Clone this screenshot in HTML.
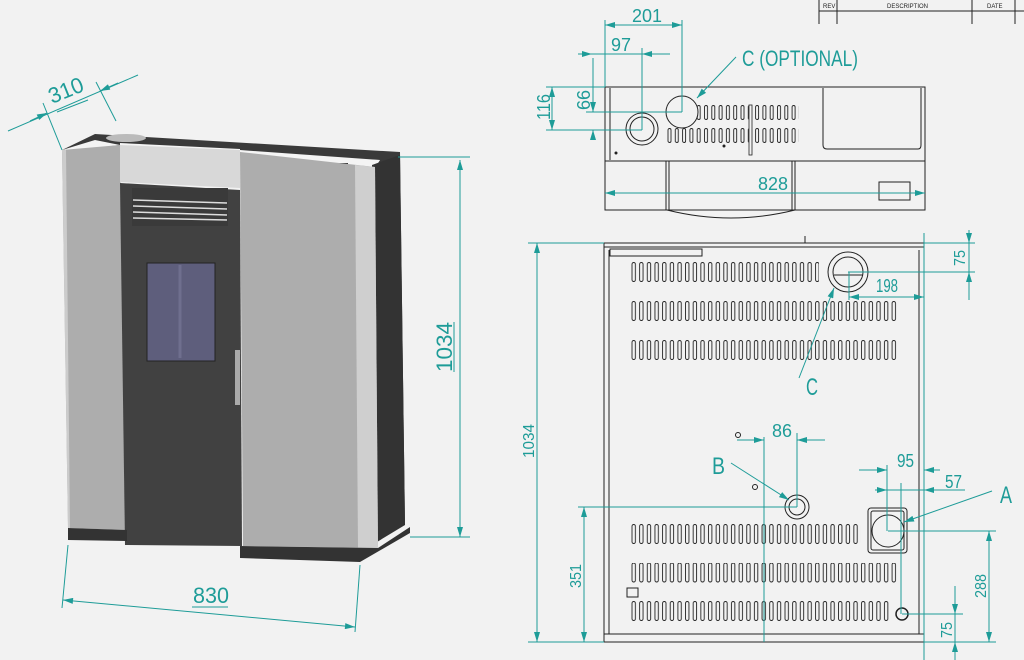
<!DOCTYPE html>
<html><head><meta charset="utf-8"><style>
html,body{margin:0;padding:0;background:#f2f2f2;}
svg{display:block}
.t{font-family:"Liberation Sans Narrow","Liberation Sans",sans-serif;fill:#1e9c98;}
.d{stroke:#1e9c98;stroke-width:1;fill:none}
.k{stroke:#222;stroke-width:1;fill:none}
</style></head><body>
<svg width="1024" height="660" viewBox="0 0 1024 660" xmlns="http://www.w3.org/2000/svg">
<defs>
<marker id="a" viewBox="0 0 10 6" refX="10" refY="3" markerWidth="14" markerHeight="6" markerUnits="userSpaceOnUse" orient="auto-start-reverse"><path d="M0,0 L10,3 L0,6z" fill="#1e9c98"/></marker>
<pattern id="s1" x="631" y="262" width="7.65" height="39" patternUnits="userSpaceOnUse"><rect x="1" y="0.5" width="3.4" height="19" rx="1.7" fill="none" stroke="#222" stroke-width="0.9"/></pattern>
<pattern id="s3" x="631" y="524" width="7.65" height="38.5" patternUnits="userSpaceOnUse"><rect x="1" y="0.5" width="3.4" height="19" rx="1.7" fill="none" stroke="#222" stroke-width="0.9"/></pattern>
<pattern id="s2" x="667" y="105" width="7.3" height="23" patternUnits="userSpaceOnUse"><rect x="1" y="0.5" width="3" height="14" rx="1.5" fill="none" stroke="#222" stroke-width="0.9"/></pattern>
</defs>

<!-- ===== 3D stove ===== -->
<polygon points="95,134 400,152 405,525 375,528 372,170 380,160 62,150" fill="#3a3a3a"/>
<polygon points="62,150 95,140 120,145 62,152" fill="#f4f4f4"/>
<polygon points="120,143 240,149 240,152 120,147" fill="#f4f4f4"/>
<polygon points="240,150 380,160 375,168 240,153" fill="#f4f4f4"/>
<polygon points="372,165 400,155 405,525 372,545" fill="#333"/>
<ellipse cx="126" cy="138" rx="20" ry="4" fill="#bbb"/>
<rect x="320" y="163" width="28" height="5" fill="#333"/>
<!-- left panel -->
<polygon points="62,150 120,145 125,530 68,528" fill="#adadad"/>
<polygon points="62,150 66,150 70,528 68,528" fill="#ccc"/>
<!-- center band -->
<polygon points="120,145 240,150 240,188 120,182" fill="#d8d8d8"/>
<!-- door -->
<polygon points="120,183 240,190 242,546 125,545" fill="#414141"/>
<rect x="132" y="188" width="96" height="38" fill="#3a3a3a"/>
<g stroke="#ddd" stroke-width="1.5">
<line x1="133" y1="200" x2="227" y2="203"/><line x1="133" y1="206" x2="227" y2="209"/><line x1="133" y1="212" x2="227" y2="215"/><line x1="133" y1="218" x2="227" y2="220"/></g>
<rect x="147" y="263" width="68" height="98" fill="#5e5e7c" stroke="#222"/>
<line x1="180" y1="265" x2="180" y2="358" stroke="#6f6f8e" stroke-width="3"/>
<rect x="235" y="350" width="5" height="55" fill="#aaa"/>
<!-- right panel -->
<polygon points="240,152 375,167 378,548 243,546" fill="#adadad"/>
<polygon points="355,165 375,167 378,548 358,548" fill="#cfcfcf"/>
<!-- base -->
<polygon points="68,528 127,530 127,541 68,540" fill="#333"/>
<polygon points="240,546 378,548 410,527 410,533 360,562 240,558" fill="#333"/>

<!-- 3D dims -->
<line class="d" x1="8" y1="131" x2="138" y2="75"/>
<line class="d" x1="30" y1="121" x2="47" y2="113" marker-end="url(#a)"/>
<line class="d" x1="118" y1="83" x2="100" y2="91" marker-end="url(#a)"/>
<line class="d" x1="43" y1="103" x2="62" y2="150"/>
<line class="d" x1="96" y1="82" x2="116" y2="121"/>
<text class="t" x="52" y="104" font-size="22" textLength="36" lengthAdjust="spacingAndGlyphs" transform="rotate(-22 52 104)">310</text>
<line class="d" x1="57" y1="112" x2="88" y2="100"/>
<line class="d" x1="398" y1="157" x2="470" y2="157"/>
<line class="d" x1="410" y1="537" x2="470" y2="537"/>
<line class="d" x1="460" y1="160" x2="460" y2="537" marker-start="url(#a)" marker-end="url(#a)"/>
<text class="t" x="452" y="372" font-size="22" textLength="50" lengthAdjust="spacingAndGlyphs" transform="rotate(-90 452 372)">1034</text>
<line class="d" x1="454" y1="322" x2="454" y2="372"/>
<line class="d" x1="68" y1="545" x2="62" y2="608"/>
<line class="d" x1="360" y1="565" x2="355" y2="632"/>
<line class="d" x1="63" y1="600" x2="355" y2="627" marker-start="url(#a)" marker-end="url(#a)"/>
<text class="t" x="193" y="603" font-size="22" textLength="36" lengthAdjust="spacingAndGlyphs">830</text>
<line class="d" x1="192" y1="607" x2="228" y2="607"/>

<!-- ===== Revision table ===== -->
<g stroke="#222" stroke-width="1">
<line x1="819" y1="0" x2="819" y2="24"/><line x1="837" y1="0" x2="837" y2="24"/><line x1="972" y1="0" x2="972" y2="24"/><line x1="1015" y1="0" x2="1015" y2="24"/>
<line x1="819" y1="11" x2="1024" y2="11"/></g>
<g font-family="Liberation Sans Narrow,Liberation Sans,sans-serif" font-size="6" fill="#222">
<text x="823" y="8">REV</text><text x="887" y="8">DESCRIPTION</text><text x="987" y="8">DATE</text></g>

<!-- ===== Top view ===== -->
<rect class="k" x="605" y="87" width="320" height="74"/>
<line class="k" x1="610" y1="88" x2="610" y2="160"/>
<path class="k" d="M823,88 V145 Q823,149 827,149 H918 Q921,149 921,145 V88"/>
<rect class="k" x="605" y="161" width="320" height="49"/>
<line class="k" x1="666" y1="161" x2="666" y2="210"/><line class="k" x1="669" y1="161" x2="669" y2="210"/>
<line class="k" x1="795" y1="161" x2="795" y2="210"/><line class="k" x1="792" y1="161" x2="792" y2="210"/>
<path class="k" d="M667,210 Q731,226 795,210"/>
<rect class="k" x="879" y="182" width="31" height="18"/>
<rect x="666" y="105" width="133" height="40" fill="url(#s2)"/>
<circle cx="682" cy="112" r="16" fill="#f2f2f2" stroke="#222"/>
<circle class="k" cx="642" cy="129" r="16"/><circle class="k" cx="642" cy="129" r="12"/>
<rect x="749" y="105" width="3" height="50" fill="#f2f2f2" stroke="#222" stroke-width="0.8"/>
<circle cx="616" cy="153" r="1.5" fill="#222"/><circle cx="724" cy="146" r="1.5" fill="#222"/>
<!-- top dims -->
<line class="d" x1="605" y1="20" x2="605" y2="87"/>
<line class="d" x1="682" y1="20" x2="682" y2="112"/>
<line class="d" x1="605" y1="25" x2="682" y2="25" marker-start="url(#a)" marker-end="url(#a)"/>
<text class="t" x="632" y="22" font-size="18" textLength="30" lengthAdjust="spacingAndGlyphs">201</text>
<line class="d" x1="642" y1="48" x2="642" y2="130"/>
<line class="d" x1="578" y1="54" x2="670" y2="54"/>
<line class="d" x1="578" y1="54" x2="592" y2="54" marker-end="url(#a)"/>
<line class="d" x1="670" y1="54" x2="642" y2="54" marker-end="url(#a)"/>
<text class="t" x="611" y="51" font-size="18" textLength="20" lengthAdjust="spacingAndGlyphs">97</text>
<line class="d" x1="586" y1="112" x2="682" y2="112"/>
<line class="d" x1="546" y1="130" x2="642" y2="130"/>
<line class="d" x1="546" y1="87" x2="605" y2="87"/>
<line class="d" x1="593" y1="58" x2="593" y2="112" marker-end="url(#a)"/>
<line class="d" x1="593" y1="140" x2="593" y2="130" marker-end="url(#a)"/>
<text class="t" x="590" y="110" font-size="18" textLength="20" lengthAdjust="spacingAndGlyphs" transform="rotate(-90 590 110)">66</text>
<line class="d" x1="552" y1="87" x2="552" y2="130" marker-start="url(#a)" marker-end="url(#a)"/>
<text class="t" x="550" y="120" font-size="18" textLength="26" lengthAdjust="spacingAndGlyphs" transform="rotate(-90 550 120)">116</text>
<text class="t" x="742" y="66" font-size="22" textLength="116" lengthAdjust="spacingAndGlyphs">C (OPTIONAL)</text>
<line class="d" x1="736" y1="57" x2="697" y2="98" marker-end="url(#a)"/>
<line class="d" x1="605" y1="193" x2="925" y2="193" marker-start="url(#a)" marker-end="url(#a)"/>
<text class="t" x="758" y="190" font-size="18" textLength="30" lengthAdjust="spacingAndGlyphs">828</text>

<!-- ===== Bottom view ===== -->
<rect class="k" x="604" y="243" width="320" height="399"/>
<line class="k" x1="604" y1="247" x2="924" y2="247"/>
<line class="k" x1="609" y1="250" x2="609" y2="634"/>
<line class="k" x1="919" y1="250" x2="919" y2="634"/>
<line class="k" x1="604" y1="634" x2="924" y2="634"/>
<rect class="k" x="610" y="249" width="92" height="7"/>
<rect x="631" y="262" width="188" height="21" fill="url(#s1)"/>
<rect x="631" y="301" width="268" height="21" fill="url(#s1)"/>
<rect x="631" y="340" width="268" height="21" fill="url(#s1)"/>
<rect x="631" y="524" width="230" height="21" fill="url(#s3)"/>
<rect x="631" y="563" width="268" height="21" fill="url(#s3)"/>
<rect x="631" y="601" width="260" height="21" fill="url(#s3)"/>
<line class="k" x1="805" y1="236" x2="805" y2="243"/>
<circle cx="848" cy="272" r="20" fill="#f2f2f2" stroke="#222"/><circle class="k" cx="848" cy="272" r="15"/>
<line class="k" x1="834" y1="275" x2="863" y2="275"/>
<circle cx="797" cy="507" r="12" fill="#f2f2f2" stroke="#222"/><circle class="k" cx="797" cy="507" r="8" stroke-width="2"/>
<rect x="868" y="508" width="39" height="45" rx="3" fill="#f2f2f2" stroke="#222"/>
<rect class="k" x="871" y="511" width="33" height="39" rx="2"/>
<circle class="k" cx="888" cy="531" r="16"/>
<circle cx="902" cy="614" r="6" fill="#f2f2f2" stroke="#222" stroke-width="1.5"/>
<circle class="k" cx="738" cy="435" r="2.5"/><circle class="k" cx="755" cy="487" r="2.5"/>
<rect class="k" x="627" y="588" width="11" height="9"/>
<!-- bottom dims -->
<line class="d" x1="528" y1="243" x2="604" y2="243"/>
<line class="d" x1="528" y1="642" x2="604" y2="642"/>
<line class="d" x1="537" y1="243" x2="537" y2="642" marker-start="url(#a)" marker-end="url(#a)"/>
<text class="t" x="534" y="458" font-size="16" textLength="34" lengthAdjust="spacingAndGlyphs" transform="rotate(-90 534 458)">1034</text>
<line class="d" x1="578" y1="507" x2="797" y2="507"/>
<line class="d" x1="584" y1="507" x2="584" y2="642" marker-start="url(#a)" marker-end="url(#a)"/>
<text class="t" x="581" y="588" font-size="16" textLength="24" lengthAdjust="spacingAndGlyphs" transform="rotate(-90 581 588)">351</text>
<line class="d" x1="764" y1="437" x2="764" y2="642"/>
<line class="d" x1="797" y1="433" x2="797" y2="507"/>
<line class="d" x1="737" y1="440" x2="764" y2="440" marker-end="url(#a)"/>
<line class="d" x1="825" y1="440" x2="797" y2="440" marker-end="url(#a)"/>
<text class="t" x="772" y="437" font-size="18" textLength="20" lengthAdjust="spacingAndGlyphs">86</text>
<text class="t" x="712" y="474" font-size="24" textLength="13" lengthAdjust="spacingAndGlyphs">B</text>
<line class="d" x1="731" y1="463" x2="789" y2="500" marker-end="url(#a)"/>
<text class="t" x="806" y="395" font-size="24" textLength="12" lengthAdjust="spacingAndGlyphs">C</text>
<line class="d" x1="799" y1="378" x2="834" y2="288" marker-end="url(#a)"/>
<line class="d" x1="924" y1="233" x2="924" y2="660"/>
<line class="d" x1="848" y1="272" x2="975" y2="272"/>
<line class="d" x1="849" y1="272" x2="849" y2="300"/>
<line class="d" x1="849" y1="297" x2="924" y2="297" marker-start="url(#a)" marker-end="url(#a)"/>
<text class="t" x="876" y="292" font-size="18" textLength="22" lengthAdjust="spacingAndGlyphs">198</text>
<line class="d" x1="969" y1="230" x2="969" y2="300"/>
<line class="d" x1="969" y1="230" x2="969" y2="243" marker-end="url(#a)"/>
<line class="d" x1="969" y1="295" x2="969" y2="272" marker-end="url(#a)"/>
<line class="d" x1="924" y1="243" x2="975" y2="243"/>
<text class="t" x="965" y="266" font-size="16" textLength="16" lengthAdjust="spacingAndGlyphs" transform="rotate(-90 965 266)">75</text>
<line class="d" x1="887" y1="465" x2="887" y2="531"/>
<line class="d" x1="859" y1="470" x2="887" y2="470" marker-end="url(#a)"/>
<line class="d" x1="940" y1="470" x2="924" y2="470" marker-end="url(#a)"/>
<text class="t" x="897" y="467" font-size="18" textLength="17" lengthAdjust="spacingAndGlyphs">95</text>
<line class="d" x1="901" y1="483" x2="901" y2="614"/>
<line class="d" x1="875" y1="490" x2="965" y2="490"/>
<line class="d" x1="875" y1="490" x2="887" y2="490" marker-end="url(#a)"/>
<line class="d" x1="940" y1="490" x2="924" y2="490" marker-end="url(#a)"/>
<text class="t" x="945" y="488" font-size="18" textLength="17" lengthAdjust="spacingAndGlyphs">57</text>
<text class="t" x="1000" y="503" font-size="24" textLength="12" lengthAdjust="spacingAndGlyphs">A</text>
<line class="d" x1="992" y1="491" x2="904" y2="522" marker-end="url(#a)"/>
<line class="d" x1="888" y1="531" x2="996" y2="531"/>
<line class="d" x1="989" y1="531" x2="989" y2="642" marker-start="url(#a)" marker-end="url(#a)"/>
<text class="t" x="986" y="598" font-size="16" textLength="24" lengthAdjust="spacingAndGlyphs" transform="rotate(-90 986 598)">288</text>
<line class="d" x1="902" y1="614" x2="963" y2="614"/>
<line class="d" x1="924" y1="642" x2="996" y2="642"/>
<line class="d" x1="955" y1="586" x2="955" y2="660"/>
<line class="d" x1="955" y1="590" x2="955" y2="614" marker-end="url(#a)"/>
<line class="d" x1="955" y1="660" x2="955" y2="642" marker-end="url(#a)"/>
<text class="t" x="952" y="638" font-size="16" textLength="16" lengthAdjust="spacingAndGlyphs" transform="rotate(-90 952 638)">75</text>
</svg>
</body></html>
